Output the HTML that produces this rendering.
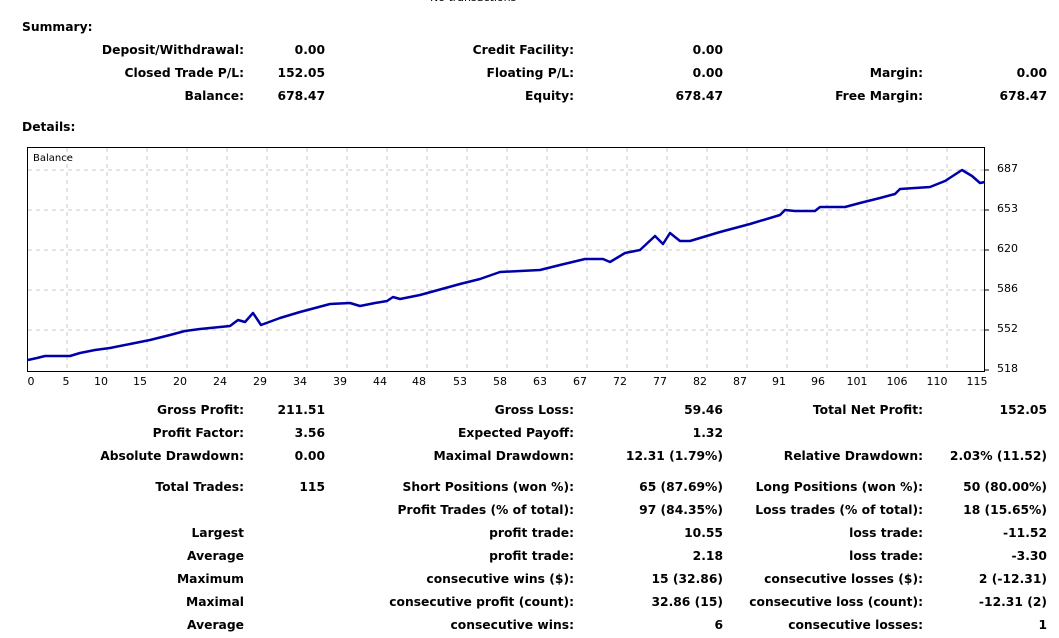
<!DOCTYPE html>
<html><head><meta charset="utf-8"><style>
body{margin:0;width:1059px;height:638px;background:#fff;position:relative;overflow:hidden;font-family:"DejaVu Sans","Liberation Sans",sans-serif;font-weight:bold;font-size:12.3px;color:#000}
.t{position:absolute;line-height:14px;white-space:nowrap}
.r{text-align:right}
svg{position:absolute;left:0;top:0}
</style></head><body>
<div class="t" style="left:430px;top:-9px;font-weight:normal;font-size:11px">No transactions</div>
<div class="t" style="left:22px;top:20px">Summary:</div>
<div class="t" style="left:22px;top:120px">Details:</div>

<div class="t r" style="right:815px;top:43px">Deposit/Withdrawal:</div><div class="t r" style="right:734px;top:43px">0.00</div>
<div class="t r" style="right:485px;top:43px">Credit Facility:</div><div class="t r" style="right:336px;top:43px">0.00</div>
<div class="t r" style="right:815px;top:66px">Closed Trade P/L:</div><div class="t r" style="right:734px;top:66px">152.05</div>
<div class="t r" style="right:485px;top:66px">Floating P/L:</div><div class="t r" style="right:336px;top:66px">0.00</div>
<div class="t r" style="right:136px;top:66px">Margin:</div><div class="t r" style="right:12px;top:66px">0.00</div>
<div class="t r" style="right:815px;top:89px">Balance:</div><div class="t r" style="right:734px;top:89px">678.47</div>
<div class="t r" style="right:485px;top:89px">Equity:</div><div class="t r" style="right:336px;top:89px">678.47</div>
<div class="t r" style="right:136px;top:89px">Free Margin:</div><div class="t r" style="right:12px;top:89px">678.47</div>

<svg width="1059" height="638" xmlns="http://www.w3.org/2000/svg">
<g stroke="#c8c8c8" stroke-dasharray="4,4" stroke-width="1">
<line x1="28" y1="170" x2="985" y2="170"/><line x1="28" y1="210" x2="985" y2="210"/><line x1="28" y1="250" x2="985" y2="250"/><line x1="28" y1="290" x2="985" y2="290"/><line x1="28" y1="330" x2="985" y2="330"/>
<line x1="67" y1="148" x2="67" y2="371"/><line x1="107" y1="148" x2="107" y2="371"/><line x1="147" y1="148" x2="147" y2="371"/><line x1="187" y1="148" x2="187" y2="371"/><line x1="227" y1="148" x2="227" y2="371"/><line x1="267" y1="148" x2="267" y2="371"/><line x1="307" y1="148" x2="307" y2="371"/><line x1="347" y1="148" x2="347" y2="371"/><line x1="387" y1="148" x2="387" y2="371"/><line x1="427" y1="148" x2="427" y2="371"/><line x1="467" y1="148" x2="467" y2="371"/><line x1="507" y1="148" x2="507" y2="371"/><line x1="547" y1="148" x2="547" y2="371"/><line x1="587" y1="148" x2="587" y2="371"/><line x1="627" y1="148" x2="627" y2="371"/><line x1="667" y1="148" x2="667" y2="371"/><line x1="707" y1="148" x2="707" y2="371"/><line x1="747" y1="148" x2="747" y2="371"/><line x1="787" y1="148" x2="787" y2="371"/><line x1="827" y1="148" x2="827" y2="371"/><line x1="867" y1="148" x2="867" y2="371"/><line x1="907" y1="148" x2="907" y2="371"/><line x1="947" y1="148" x2="947" y2="371"/>
</g>
<rect x="27.5" y="147.5" width="957" height="224" fill="none" stroke="#000" stroke-width="1"/>
<g stroke="#000"><line x1="985" y1="170" x2="989" y2="170"/><line x1="985" y1="210" x2="989" y2="210"/><line x1="985" y1="250" x2="989" y2="250"/><line x1="985" y1="290" x2="989" y2="290"/><line x1="985" y1="330" x2="989" y2="330"/><line x1="985" y1="370" x2="989" y2="370"/></g>
<text x="33" y="161" font-family="DejaVu Sans,sans-serif" font-size="10" font-weight="normal">Balance</text>
<polyline fill="none" stroke="#0000a8" stroke-width="2.5" stroke-linejoin="round" points="28,360 37,358 45,356 70,356 80,353 95,350 110,348 130,344 150,340 170,335 185,331 200,329 230,326 238,320 245,322 253,313 261,325 280,318 300,312 330,304 350,303 360,306 375,303 387,301 393,297 400,299 420,295 460,284 480,279 500,272 540,270 560,265 585,259 603,259 610,262 625,253 640,250 655,236 663,244 670,233 680,241 690,241 720,232 750,224 780,215 785,210 795,211 815,211 820,207 845,207 860,203 880,198 895,194 900,189 930,187 945,181 962,170 972,176 980,183 985,182"/>
<g font-family="DejaVu Sans,sans-serif" font-size="11" font-weight="normal" fill="#000">
<text x="997" y="172">687</text><text x="997" y="212">653</text><text x="997" y="252">620</text><text x="997" y="292">586</text><text x="997" y="332">552</text><text x="997" y="372">518</text>
<g text-anchor="middle">
<text x="31" y="385">0</text><text x="66" y="385">5</text><text x="101" y="385">10</text><text x="140" y="385">15</text><text x="180" y="385">20</text><text x="220" y="385">24</text><text x="260" y="385">29</text><text x="300" y="385">34</text><text x="340" y="385">39</text><text x="380" y="385">44</text><text x="419" y="385">48</text><text x="460" y="385">53</text><text x="500" y="385">58</text><text x="540" y="385">63</text><text x="580" y="385">67</text><text x="620" y="385">72</text><text x="660" y="385">77</text><text x="700" y="385">82</text><text x="740" y="385">87</text><text x="779" y="385">91</text><text x="818" y="385">96</text><text x="857" y="385">101</text><text x="897" y="385">106</text><text x="937" y="385">110</text><text x="977" y="385">115</text>
</g></g>
</svg>

<div class="t r" style="right:815px;top:403px">Gross Profit:</div><div class="t r" style="right:734px;top:403px">211.51</div>
<div class="t r" style="right:485px;top:403px">Gross Loss:</div><div class="t r" style="right:336px;top:403px">59.46</div>
<div class="t r" style="right:136px;top:403px">Total Net Profit:</div><div class="t r" style="right:12px;top:403px">152.05</div>
<div class="t r" style="right:815px;top:426px">Profit Factor:</div><div class="t r" style="right:734px;top:426px">3.56</div>
<div class="t r" style="right:485px;top:426px">Expected Payoff:</div><div class="t r" style="right:336px;top:426px">1.32</div>
<div class="t r" style="right:815px;top:449px">Absolute Drawdown:</div><div class="t r" style="right:734px;top:449px">0.00</div>
<div class="t r" style="right:485px;top:449px">Maximal Drawdown:</div><div class="t r" style="right:336px;top:449px">12.31 (1.79%)</div>
<div class="t r" style="right:136px;top:449px">Relative Drawdown:</div><div class="t r" style="right:12px;top:449px">2.03% (11.52)</div>
<div class="t r" style="right:815px;top:480px">Total Trades:</div><div class="t r" style="right:734px;top:480px">115</div>
<div class="t r" style="right:485px;top:480px">Short Positions (won %):</div><div class="t r" style="right:336px;top:480px">65 (87.69%)</div>
<div class="t r" style="right:136px;top:480px">Long Positions (won %):</div><div class="t r" style="right:12px;top:480px">50 (80.00%)</div>
<div class="t r" style="right:485px;top:503px">Profit Trades (% of total):</div><div class="t r" style="right:336px;top:503px">97 (84.35%)</div>
<div class="t r" style="right:136px;top:503px">Loss trades (% of total):</div><div class="t r" style="right:12px;top:503px">18 (15.65%)</div>
<div class="t r" style="right:815px;top:526px">Largest</div>
<div class="t r" style="right:485px;top:526px">profit trade:</div><div class="t r" style="right:336px;top:526px">10.55</div>
<div class="t r" style="right:136px;top:526px">loss trade:</div><div class="t r" style="right:12px;top:526px">-11.52</div>
<div class="t r" style="right:815px;top:549px">Average</div>
<div class="t r" style="right:485px;top:549px">profit trade:</div><div class="t r" style="right:336px;top:549px">2.18</div>
<div class="t r" style="right:136px;top:549px">loss trade:</div><div class="t r" style="right:12px;top:549px">-3.30</div>
<div class="t r" style="right:815px;top:572px">Maximum</div>
<div class="t r" style="right:485px;top:572px">consecutive wins ($):</div><div class="t r" style="right:336px;top:572px">15 (32.86)</div>
<div class="t r" style="right:136px;top:572px">consecutive losses ($):</div><div class="t r" style="right:12px;top:572px">2 (-12.31)</div>
<div class="t r" style="right:815px;top:595px">Maximal</div>
<div class="t r" style="right:485px;top:595px">consecutive profit (count):</div><div class="t r" style="right:336px;top:595px">32.86 (15)</div>
<div class="t r" style="right:136px;top:595px">consecutive loss (count):</div><div class="t r" style="right:12px;top:595px">-12.31 (2)</div>
<div class="t r" style="right:815px;top:618px">Average</div>
<div class="t r" style="right:485px;top:618px">consecutive wins:</div><div class="t r" style="right:336px;top:618px">6</div>
<div class="t r" style="right:136px;top:618px">consecutive losses:</div><div class="t r" style="right:12px;top:618px">1</div>
</body></html>
